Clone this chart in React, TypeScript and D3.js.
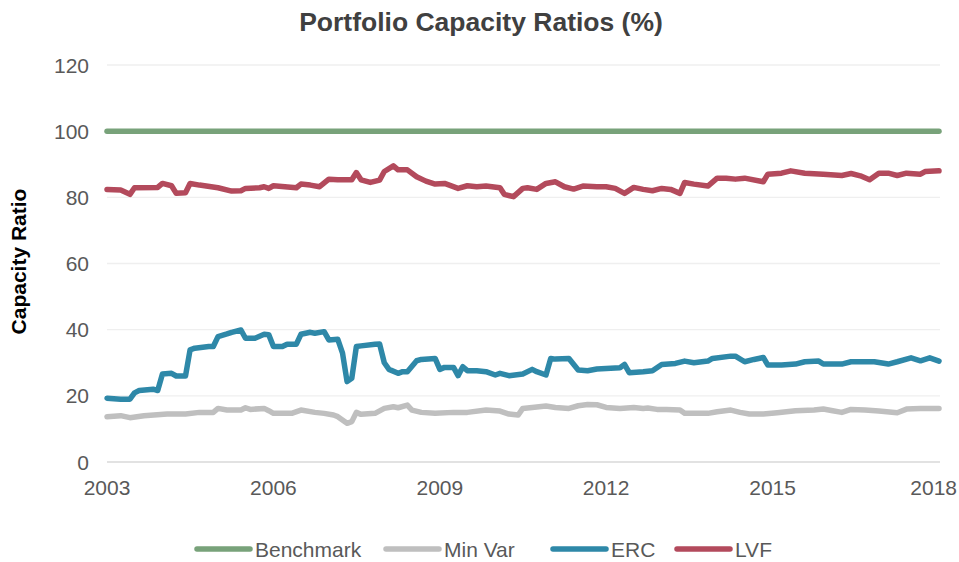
import { useEffect, useRef } from "react";
import * as d3 from "d3";

// series as [month, value] pairs
const benchmark: [string, number][] = [
  ["2003-01", 100],
  ["2018-01", 100],
];

const minVar: [string, number][] = [
  ["2003-01", 13.7], ["2003-04", 14.0], ["2003-06", 13.4], ["2003-09", 14.0],
  ["2004-02", 14.5], ["2004-06", 14.5], ["2004-09", 15.0], ["2004-12", 15.0],
  ["2005-01", 16.2], ["2005-03", 15.7], ["2005-06", 15.7], ["2005-07", 16.4],
  ["2005-08", 15.9], ["2005-11", 16.2], ["2005-12", 15.5], ["2006-01", 14.7],
  ["2006-05", 14.7], ["2006-07", 15.7], ["2006-10", 15.0], ["2006-12", 14.7],
  ["2007-02", 14.2], ["2007-03", 13.7], ["2007-05", 11.7], ["2007-06", 12.2],
  ["2007-07", 15.0], ["2007-08", 14.4], ["2007-11", 14.7], ["2008-01", 16.2],
  ["2008-03", 16.7], ["2008-04", 16.4], ["2008-06", 17.2], ["2008-07", 15.7],
  ["2008-09", 15.0], ["2008-12", 14.7], ["2009-04", 15.0], ["2009-07", 15.0],
  ["2009-11", 15.7], ["2010-02", 15.4], ["2010-04", 14.5], ["2010-06", 14.2],
  ["2010-07", 16.2], ["2010-09", 16.5], ["2010-12", 16.9], ["2011-02", 16.5],
  ["2011-05", 16.2], ["2011-07", 17.0], ["2011-09", 17.4], ["2011-11", 17.3],
  ["2012-01", 16.5], ["2012-04", 16.2], ["2012-07", 16.5], ["2012-09", 16.2],
  ["2012-10", 16.3], ["2012-12", 15.9], ["2013-02", 15.9], ["2013-05", 15.7],
  ["2013-06", 14.7], ["2013-11", 14.7], ["2014-01", 15.2], ["2014-04", 15.7],
  ["2014-06", 15.0], ["2014-08", 14.5], ["2014-11", 14.5], ["2015-02", 14.9],
  ["2015-06", 15.5], ["2015-10", 15.7], ["2015-12", 16.0], ["2016-02", 15.5],
  ["2016-04", 15.0], ["2016-06", 15.9], ["2016-09", 15.7], ["2016-12", 15.4],
  ["2017-04", 14.9], ["2017-06", 16.0], ["2017-09", 16.2], ["2018-01", 16.2],
];

const erc: [string, number][] = [
  ["2003-01", 19.3], ["2003-04", 19.0], ["2003-06", 19.0], ["2003-07", 20.9],
  ["2003-08", 21.6], ["2003-11", 22.0], ["2003-12", 21.6], ["2004-01", 26.6],
  ["2004-03", 26.8], ["2004-04", 26.0], ["2004-06", 26.0], ["2004-07", 33.9],
  ["2004-08", 34.4], ["2004-11", 34.9], ["2004-12", 34.9], ["2005-01", 37.9],
  ["2005-03", 38.7], ["2005-04", 39.2], ["2005-06", 39.9], ["2005-07", 37.4],
  ["2005-09", 37.4], ["2005-11", 38.6], ["2005-12", 38.5], ["2006-01", 34.9],
  ["2006-03", 34.9], ["2006-04", 35.6], ["2006-06", 35.6], ["2006-07", 38.6],
  ["2006-09", 39.2], ["2006-10", 38.9], ["2006-12", 39.4], ["2007-01", 36.9],
  ["2007-03", 37.1], ["2007-04", 32.9], ["2007-05", 24.3], ["2007-06", 25.3],
  ["2007-07", 34.9], ["2007-08", 35.1], ["2007-11", 35.6], ["2007-12", 35.7],
  ["2008-01", 30.0], ["2008-02", 28.0], ["2008-04", 26.8], ["2008-05", 27.3],
  ["2008-06", 27.3], ["2008-08", 30.6], ["2008-09", 31.0], ["2008-12", 31.3],
  ["2009-01", 28.0], ["2009-02", 28.6], ["2009-04", 28.6], ["2009-05", 26.1],
  ["2009-06", 28.8], ["2009-07", 27.6], ["2009-09", 27.6], ["2009-11", 27.3],
  ["2010-01", 26.3], ["2010-02", 26.8], ["2010-04", 26.1], ["2010-07", 26.6],
  ["2010-09", 28.0], ["2010-10", 27.3], ["2010-12", 26.3], ["2011-01", 31.3],
  ["2011-02", 31.1], ["2011-05", 31.3], ["2011-07", 27.8], ["2011-09", 27.6],
  ["2011-11", 28.1], ["2012-04", 28.5], ["2012-05", 29.5], ["2012-06", 27.0],
  ["2012-09", 27.3], ["2012-11", 27.6], ["2013-01", 29.5], ["2013-04", 29.8],
  ["2013-06", 30.5], ["2013-08", 30.0], ["2013-11", 30.5], ["2013-12", 31.3],
  ["2014-04", 32.0], ["2014-05", 32.0], ["2014-07", 30.3], ["2014-09", 31.0],
  ["2014-11", 31.6], ["2014-12", 29.3], ["2015-03", 29.3], ["2015-06", 29.6],
  ["2015-08", 30.3], ["2015-11", 30.5], ["2015-12", 29.6], ["2016-04", 29.6],
  ["2016-06", 30.3], ["2016-11", 30.3], ["2017-02", 29.6], ["2017-04", 30.3],
  ["2017-07", 31.5], ["2017-09", 30.6], ["2017-11", 31.5], ["2018-01", 30.5],
];

const lvf: [string, number][] = [
  ["2003-01", 82.4], ["2003-04", 82.2], ["2003-06", 80.9], ["2003-07", 82.9],
  ["2003-12", 83.0], ["2004-01", 84.2], ["2004-03", 83.5], ["2004-04", 81.2],
  ["2004-06", 81.4], ["2004-07", 84.2], ["2004-09", 83.7], ["2005-01", 82.9],
  ["2005-04", 81.9], ["2005-06", 82.0], ["2005-07", 82.7], ["2005-10", 82.9],
  ["2005-11", 83.2], ["2005-12", 82.7], ["2006-01", 83.5], ["2006-06", 82.9],
  ["2006-07", 84.0], ["2006-09", 83.7], ["2006-11", 83.2], ["2007-01", 85.5],
  ["2007-03", 85.3], ["2007-06", 85.3], ["2007-07", 87.5], ["2007-08", 85.3],
  ["2007-10", 84.5], ["2007-12", 85.2], ["2008-01", 87.8], ["2008-03", 89.5],
  ["2008-04", 88.3], ["2008-06", 88.3], ["2008-08", 86.2], ["2008-10", 84.9],
  ["2008-12", 84.0], ["2009-02", 84.2], ["2009-05", 82.7], ["2009-07", 83.5],
  ["2009-09", 83.2], ["2009-11", 83.4], ["2010-02", 82.9], ["2010-03", 80.9],
  ["2010-05", 80.2], ["2010-07", 82.7], ["2010-08", 82.9], ["2010-10", 82.4],
  ["2010-12", 84.2], ["2011-02", 84.7], ["2011-04", 83.2], ["2011-06", 82.5],
  ["2011-08", 83.4], ["2011-11", 83.2], ["2012-01", 83.2], ["2012-03", 82.7],
  ["2012-05", 81.2], ["2012-07", 83.0], ["2012-09", 82.4], ["2012-11", 82.0],
  ["2013-01", 82.7], ["2013-03", 82.4], ["2013-05", 81.2], ["2013-06", 84.5],
  ["2013-08", 84.0], ["2013-11", 83.4], ["2014-01", 85.8], ["2014-03", 85.8],
  ["2014-05", 85.5], ["2014-07", 85.8], ["2014-11", 84.7], ["2014-12", 87.0],
  ["2015-03", 87.3], ["2015-05", 88.0], ["2015-08", 87.3], ["2015-12", 87.0],
  ["2016-04", 86.6], ["2016-06", 87.2], ["2016-08", 86.5], ["2016-10", 85.3],
  ["2016-12", 87.3], ["2017-02", 87.3], ["2017-04", 86.6], ["2017-06", 87.3],
  ["2017-09", 87.0], ["2017-10", 87.8], ["2018-01", 88.0],
];

const seriesNames = ["Benchmark", "Min Var", "ERC", "LVF"];
const seriesColors = ["#78A27A", "#BFBFBF", "#2E88A8", "#B34A5C"];
const yTicks = [0, 20, 40, 60, 80, 100, 120];
const xTickYears = ["2003", "2006", "2009", "2012", "2015", "2018"];

function App() {
  const ref = useRef<SVGSVGElement>(null);

  useEffect(() => {
    const width = 959;
    const margin = { top: 65, left: 107 };
    const parse = d3.timeParse("%Y-%m");
    const font = "'Liberation Sans', Arial, sans-serif";

    const svg = d3.select(ref.current);
    svg.selectAll("*").remove();

    const x = d3
      .scaleTime()
      .domain([parse("2003-01")!, parse("2018-01")!])
      .range([margin.left, 939]);
    const y = d3.scaleLinear().domain([0, 120]).range([462, margin.top]);

    // titre
    svg
      .append("text")
      .attr("x", 481)
      .attr("y", 31)
      .attr("text-anchor", "middle")
      .attr("font-family", font)
      .attr("font-size", 26.5)
      .attr("font-weight", "bold")
      .attr("fill", "#404040")
      .text("Portfolio Capacity Ratios (%)");

    // label axe y
    svg
      .append("text")
      .attr("transform", `translate(26,${(y(0) + y(120)) / 2 - 2}) rotate(-90)`)
      .attr("text-anchor", "middle")
      .attr("font-family", font)
      .attr("font-size", 21)
      .attr("font-weight", "bold")
      .attr("fill", "#000")
      .text("Capacity Ratio");

    // grille + ticks y
    yTicks.forEach((t) => {
      svg
        .append("line")
        .attr("x1", margin.left)
        .attr("x2", 940)
        .attr("y1", y(t))
        .attr("y2", y(t))
        .attr("stroke", t === 0 ? "#D9D9D9" : "#EFEFEF")
        .attr("stroke-width", 1.3);
      svg
        .append("text")
        .attr("x", 89)
        .attr("y", y(t) + 7.5)
        .attr("text-anchor", "end")
        .attr("font-family", font)
        .attr("font-size", 21)
        .attr("fill", "#595959")
        .text(t);
    });

    // ticks x (le dernier est collé au bord droit, comme dans l'original)
    xTickYears.forEach((yr, i) => {
      const last = i === xTickYears.length - 1;
      const cx = x(parse(yr + "-01")!);
      svg
        .append("text")
        .attr("x", last ? Math.min(cx + 22, width - 2) : cx)
        .attr("y", 495)
        .attr("text-anchor", last ? "end" : "middle")
        .attr("font-family", font)
        .attr("font-size", 21)
        .attr("fill", "#595959")
        .text(yr);
    });

    const line = d3
      .line<[string, number]>()
      .x((d) => x(parse(d[0])!))
      .y((d) => y(d[1]));

    [benchmark, minVar, erc, lvf].forEach((s, i) => {
      svg
        .append("path")
        .attr("d", line(s))
        .attr("fill", "none")
        .attr("stroke", seriesColors[i])
        .attr("stroke-width", 5.5)
        .attr("stroke-linejoin", "round")
        .attr("stroke-linecap", "round");
    });

    // légende
    const legendX = [197, 386, 553, 677];
    seriesNames.forEach((name, i) => {
      svg
        .append("line")
        .attr("x1", legendX[i])
        .attr("x2", legendX[i] + 53)
        .attr("y1", 549)
        .attr("y2", 549)
        .attr("stroke", seriesColors[i])
        .attr("stroke-width", 5.5)
        .attr("stroke-linecap", "round");
      svg
        .append("text")
        .attr("x", legendX[i] + 58)
        .attr("y", 556.5)
        .attr("font-family", font)
        .attr("font-size", 21)
        .attr("fill", "#595959")
        .text(name);
    });
  }, []);

  return (
    <svg
      ref={ref}
      width={959}
      height={562}
      style={{ position: "absolute", left: 0, top: 0, background: "#fff" }}
    />
  );
}

export default App;
